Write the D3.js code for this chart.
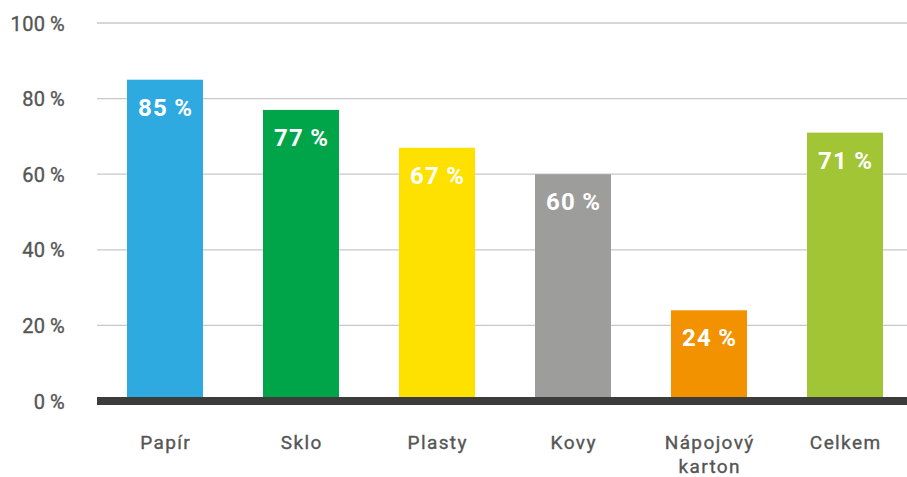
<!DOCTYPE html>
<html><head><meta charset="utf-8">
<script src="https://cdn.jsdelivr.net/npm/d3@7"></script>
<style>body{margin:0;background:#fff}svg{display:block}</style>
</head><body>
<svg id="chart" width="907" height="477"></svg>
<script>
const categories = [["Papír"],["Sklo"],["Plasty"],["Kovy"],["Nápojový","karton"],["Celkem"]];
const values = [85, 77, 67, 60, 24, 71];
const colors = ["#2eaae1","#00a54a","#ffe100","#9d9d9c","#f39200","#a1c535"];
const yTicks = [0, 20, 40, 60, 80, 100];

const svg = d3.select("#chart");
const mLeft = 97, mRight = 907, mTop = 23, mBottom = 401;
const font = "Roboto, 'DejaVu Sans', sans-serif";

const x = d3.scaleBand().domain(d3.range(categories.length)).range([mLeft, mLeft + 816]).paddingInner(60 / 136).paddingOuter(30 / 136);
const y = d3.scaleLinear().domain([0, 100]).range([mBottom, mTop]);

// gridlines
svg.append("g").selectAll("line").data(yTicks).join("line")
  .attr("x1", mLeft).attr("x2", mRight)
  .attr("y1", d => y(d)).attr("y2", d => y(d))
  .attr("stroke", "#c8c8c8").attr("stroke-width", 1.3);

// y labels
svg.append("g").selectAll("text").data(yTicks).join("text")
  .attr("x", 65).attr("y", d => y(d) + 7.5)
  .attr("text-anchor", "end")
  .attr("font-family", font).attr("font-size", 20).attr("font-weight", 400)
  .attr("letter-spacing", 0.4)
  .attr("fill", "#555").attr("stroke", "#555").attr("stroke-width", 0.35)
  .text(d => d + "\u2009%");

// bars
svg.append("g").selectAll("rect").data(values).join("rect")
  .attr("x", (d, i) => x(i)).attr("width", x.bandwidth())
  .attr("y", d => y(d)).attr("height", d => y(0) - y(d))
  .attr("fill", (d, i) => colors[i]);

// axis line
svg.append("rect").attr("x", mLeft).attr("width", mRight - mLeft)
  .attr("y", y(0) - 4).attr("height", 8).attr("fill", "#3c3c3b");

// value labels
svg.append("g").selectAll("text").data(values).join("text")
  .attr("x", (d, i) => x(i) + x.bandwidth() / 2 + 0.6)
  .attr("y", d => y(d) + 36)
  .attr("text-anchor", "middle")
  .attr("font-family", font).attr("font-size", 24).attr("font-weight", 700)
  .attr("letter-spacing", 1.2)
  .attr("fill", "#fff")
  .text(d => d + "\u2009%");

// category labels
const cl = svg.append("g").selectAll("text").data(categories).join("text")
  .attr("x", (d, i) => x(i) + x.bandwidth() / 2 + 0.7)
  .attr("y", 449)
  .attr("text-anchor", "middle")
  .attr("font-family", font).attr("font-size", 19).attr("font-weight", 400)
  .attr("letter-spacing", 1.4)
  .attr("fill", "#555").attr("stroke", "#555").attr("stroke-width", 0.35);
cl.selectAll("tspan").data(d => d).join("tspan")
  .attr("x", function() { return d3.select(this.parentNode).attr("x"); })
  .attr("dy", (d, j) => j === 0 ? 0 : 24)
  .text(d => d);
</script>
</body></html>
